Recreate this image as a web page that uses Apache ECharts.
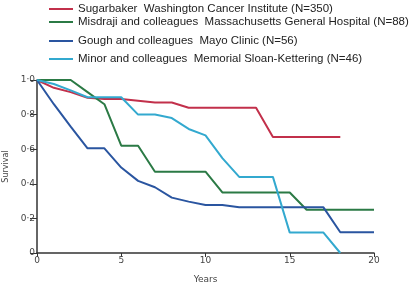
<!DOCTYPE html>
<html>
<head>
<meta charset="utf-8">
<script src="https://cdn.jsdelivr.net/npm/echarts@6/dist/echarts.min.js"></script>
<style>
  html, body { margin: 0; padding: 0; background: #fff; }
  #main { width: 412px; height: 291px; }
</style>
</head>
<body>
<div id="main"></div>
<script>
var seriesNames = [
  'Sugarbaker  Washington Cancer Institute (N=350)',
  'Misdraji and colleagues  Massachusetts General Hospital (N=88)',
  'Gough and colleagues  Mayo Clinic (N=56)',
  'Minor and colleagues  Memorial Sloan-Kettering (N=46)'
];
var sugarbaker = [[0,1.0],[1,0.955],[2,0.93],[3,0.897],[4,0.89],[5,0.89],[6,0.88],[7,0.87],[8,0.87],[9,0.84],[10,0.84],[11,0.84],[12,0.84],[13,0.84],[14,0.67],[15,0.67],[16,0.67],[17,0.67],[18,0.67]];
var misdraji = [[0,1.0],[1,1.0],[2,1.0],[3,0.93],[4,0.86],[5,0.62],[6,0.62],[7,0.47],[8,0.47],[9,0.47],[10,0.47],[11,0.35],[12,0.35],[13,0.35],[14,0.35],[15,0.35],[16,0.25],[17,0.25],[18,0.25],[19,0.25],[20,0.25]];
var gough = [[0,1.0],[1,0.86],[2,0.73],[3,0.605],[4,0.605],[5,0.494],[6,0.417],[7,0.38],[8,0.32],[9,0.297],[10,0.277],[11,0.277],[12,0.264],[13,0.264],[14,0.264],[15,0.264],[16,0.264],[17,0.264],[18,0.12],[19,0.12],[20,0.12]];
var minor = [[0,1.0],[1,0.977],[2,0.94],[3,0.9],[4,0.9],[5,0.9],[6,0.8],[7,0.8],[8,0.78],[9,0.717],[10,0.68],[11,0.548],[12,0.44],[13,0.44],[14,0.44],[15,0.118],[16,0.118],[17,0.118],[18,0]];
var yTickLabels = ['0', '0·2', '0·4', '0·6', '0·8', '1·0'];
var xTickLabels = ['0', '5', '10', '15', '20'];

var colors = ['#c2304b', '#2b7a45', '#2a55a0', '#33a9cf'];
var legendTops = [3, 16, 35, 53];

var myChart = echarts.init(document.getElementById('main'));

var option = {
  animation: false,
  color: colors,
  legend: seriesNames.map(function (name, i) {
    return {
      data: [name],
      left: 49,
      top: legendTops[i],
      padding: 0,
      icon: 'rect',
      itemWidth: 24,
      itemHeight: 2,
      itemGap: 6,
      textStyle: { fontFamily: 'Liberation Sans', fontSize: 11.5, color: '#222' }
    };
  }),
  grid: { left: 37, right: 38, top: 80, bottom: 38, outerBoundsMode: 'none' },
  xAxis: {
    type: 'value',
    min: 0,
    max: 20,
    interval: 5,
    name: 'Years',
    nameLocation: 'middle',
    nameGap: 22,
    nameTextStyle: { fontFamily: 'DejaVu Sans', fontSize: 9, color: '#444' },
    axisLine: { lineStyle: { color: '#333', width: 1.5 } },
    axisTick: { length: 4, lineStyle: { color: '#333' } },
    axisLabel: {
      fontFamily: 'DejaVu Sans', fontSize: 9, color: '#444', margin: 3,
      formatter: function (v) { return xTickLabels[v / 5]; }
    },
    splitLine: { show: false }
  },
  yAxis: {
    type: 'value',
    min: 0,
    max: 1,
    interval: 0.2,
    name: 'Survival',
    nameLocation: 'middle',
    nameGap: 21,
    nameTextStyle: { fontFamily: 'DejaVu Sans', fontSize: 8, color: '#444' },
    axisLine: { show: true, lineStyle: { color: '#333', width: 1.5 } },
    axisTick: { show: true, length: 7, lineStyle: { color: '#333' } },
    axisLabel: {
      fontFamily: 'DejaVu Sans', fontSize: 9, color: '#444', margin: 2,
      formatter: function (v) { return yTickLabels[Math.round(v / 0.2)]; }
    },
    splitLine: { show: false }
  },
  series: [sugarbaker, misdraji, gough, minor].map(function (d, i) {
    return {
      name: seriesNames[i],
      type: 'line',
      data: d,
      showSymbol: false,
      symbol: 'none',
      lineStyle: { width: 2, color: colors[i] },
      z: 2 + i
    };
  })
};

myChart.setOption(option);
window.addEventListener('resize', myChart.resize);
</script>
</body>
</html>
